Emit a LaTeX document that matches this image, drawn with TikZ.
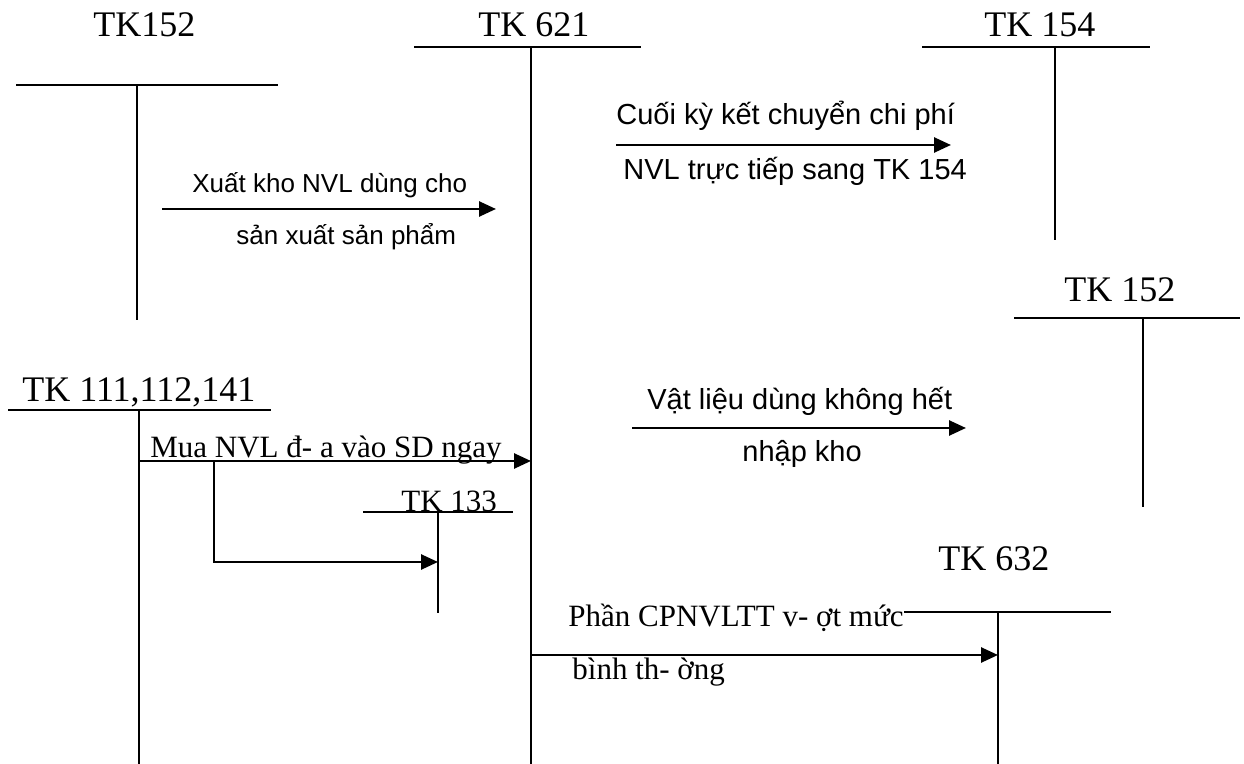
\documentclass[tikz,border=0pt]{standalone}
\usepackage{fontspec}
\setmainfont{Liberation Serif}
\newfontfamily\arialfont{Liberation Sans}
\usepackage{tikz}
\usetikzlibrary{arrows.meta, positioning}
\tikzset{
    tkname/.style={
        inner sep=0pt,
        anchor=base west,
        font=\fontsize{#1}{#1}\selectfont
    },
    tkname/.default=18,
    note/.style={
        inner sep=0pt,
        anchor=base west,
        font=\arialfont\fontsize{#1}{#1}\selectfont
    },
    note/.default=14.5,
    serifnote/.style={
        inner sep=0pt,
        anchor=base west,
        font=\fontsize{15.5}{15.5}\selectfont
    },
    tline/.style={
        line width=0.65pt
    },
    flow/.style={
        -{Triangle[length=8.5pt, width=7.5pt]},
        line width=1.3pt
    }
}

\begin{document}
\begin{tikzpicture}[x=0.5pt, y=-0.5pt]
        \useasboundingbox (0,0) rectangle (1244,764);

        % T accounts
        \node[tkname] (tk152) at (93,37) {TK152};
        \coordinate (tk152-l) at (16,85);
        \coordinate (tk152-r) at (278,85);
        \coordinate (tk152-t) at (137,85);
        \coordinate (tk152-b) at (137,320);

        \node[tkname] (tk621) at (478,37) {TK 621};
        \coordinate (tk621-l) at (414,47);
        \coordinate (tk621-r) at (641,47);
        \coordinate (tk621-t) at (531,47);
        \coordinate (tk621-b) at (531,764);

        \node[tkname] (tk154) at (984,37) {TK 154};
        \coordinate (tk154-l) at (922,47);
        \coordinate (tk154-r) at (1150,47);
        \coordinate (tk154-t) at (1055,47);
        \coordinate (tk154-b) at (1055,240);

        \node[tkname] (tk152b) at (1064,302) {TK 152};
        \coordinate (tk152b-l) at (1014,318);
        \coordinate (tk152b-r) at (1240,318);
        \coordinate (tk152b-t) at (1143,318);
        \coordinate (tk152b-b) at (1143,507);

        \node[tkname] (tk111) at (22,402) {TK 111,112,141};
        \coordinate (tk111-l) at (8,410);
        \coordinate (tk111-r) at (271,410);
        \coordinate (tk111-t) at (139,410);
        \coordinate (tk111-b) at (139,764);

        \node[tkname=15.5] (tk133) at (401,512) {TK 133};
        \coordinate (tk133-l) at (363,512);
        \coordinate (tk133-r) at (513,512);
        \coordinate (tk133-t) at (438,512);
        \coordinate (tk133-b) at (438,613);

        \node[tkname] (tk632) at (938,571) {TK 632};
        \coordinate (tk632-l) at (904,612);
        \coordinate (tk632-r) at (1111,612);
        \coordinate (tk632-t) at (998,612);
        \coordinate (tk632-b) at (998,764);

        \draw[tline] (tk152-l) -- (tk152-r) (tk152-t) -- (tk152-b);
        \draw[tline] (tk621-l) -- (tk621-r) (tk621-t) -- (tk621-b);
        \draw[tline] (tk154-l) -- (tk154-r) (tk154-t) -- (tk154-b);
        \draw[tline] (tk152b-l) -- (tk152b-r) (tk152b-t) -- (tk152b-b);
        \draw[tline] (tk111-l) -- (tk111-r) (tk111-t) -- (tk111-b);
        \draw[tline] (tk133-l) -- (tk133-r) (tk133-t) -- (tk133-b);
        \draw[tline] (tk632-l) -- (tk632-r) (tk632-t) -- (tk632-b);

        % flows
        \coordinate (xk-s) at (162,209);
        \coordinate (xk-e) at (496,209);
        \draw[flow] (xk-s) -- (xk-e);
        \node[note=13] (xk-top) at (192,193) {Xuất kho NVL dùng cho};
        \node[note=13] (xk-bot) at (236,245) {sản xuất sản phẩm};

        \coordinate (kc-s) at (616,145);
        \coordinate (kc-e) at (951,145);
        \draw[flow] (kc-s) -- (kc-e);
        \node[note] (kc-top) at (616,125) {Cuối kỳ kết chuyển chi phí};
        \node[note] (kc-bot) at (623,180) {NVL trực tiếp sang TK 154};

        \coordinate (vl-s) at (632,428);
        \coordinate (vl-e) at (966,428);
        \draw[flow] (vl-s) -- (vl-e);
        \node[note] (vl-top) at (647,410) {Vật liệu dùng không hết};
        \node[note] (vl-bot) at (742,462) {nhập kho};

        \coordinate (mua-s) at (tk111-t |- 0,461);
        \coordinate (mua-e) at (tk621-t |- 0,461);
        \coordinate (mua-k) at (214,461);
        \draw[flow] (mua-s) -- (mua-e);
        \draw[flow] (mua-k) |- (tk133-t |- 0,562);
        \node[serifnote] (mua) at (150,458) {Mua NVL đ- a vào SD ngay};

        \coordinate (cp-s) at (tk621-t |- 0,655);
        \coordinate (cp-e) at (tk632-t |- 0,655);
        \draw[flow] (cp-s) -- (cp-e);
        \node[serifnote] (cp-top) at (568,627) {Phần CPNVLTT v- ợt mức};
        \node[serifnote] (cp-bot) at (572,680) {bình th- ờng};
    \end{tikzpicture}
\end{document}
